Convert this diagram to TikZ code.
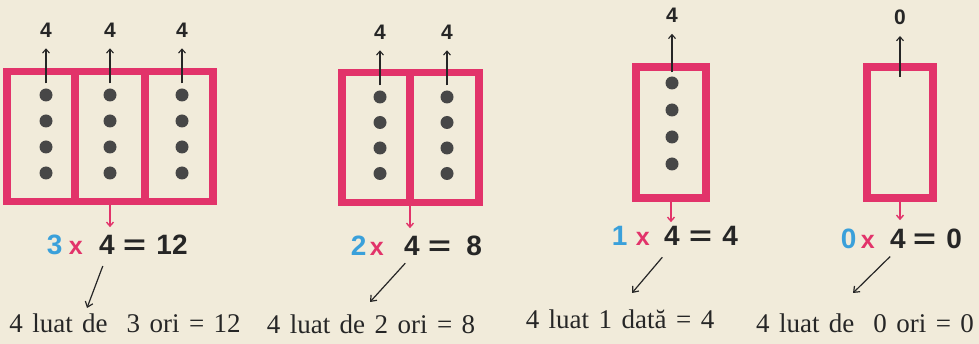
\documentclass[tikz,border=0pt]{standalone}
\usepackage{fontspec}
\usepackage{graphicx}
\setmainfont{Liberation Serif}
\setsansfont{Liberation Sans}
\usetikzlibrary{positioning,arrows.meta}
\definecolor{framered}{HTML}{E2336A}
\definecolor{factorblue}{HTML}{3AA0DA}
\definecolor{paper}{HTML}{F1EBDA}
\definecolor{ink}{HTML}{262626}
\definecolor{beadgray}{HTML}{474747}
\newcommand{\wideeq}{\scalebox{1.4}[1]{=}}

\begin{document}
\begin{tikzpicture}[
x=1pt, y=-1pt,
cell/.style={draw=framered, line width=7.5pt, inner sep=0pt, outer sep=0pt, minimum height=130pt},
bead/.style={circle, fill=beadgray, inner sep=0pt, minimum size=13pt},
countlabel/.style={font=\sffamily\bfseries\fontsize{21}{21}\selectfont, text=ink, inner sep=0pt},
factor/.style={font=\sffamily\bfseries\fontsize{28}{28}\selectfont, text=ink, inner sep=0pt},
timessign/.style={font=\sffamily\bfseries\fontsize{25}{25}\selectfont, text=framered, inner sep=0pt},
caption/.style={font=\fontsize{27}{27}\selectfont, execute at begin node={\spaceskip=0.35em\relax}, text=ink, anchor=base, inner sep=0pt},
uparrow/.style={-{Straight Barb[length=4pt,width=7pt]}, line width=1.1pt, ink, shorten >=11pt},
downarrow/.style={-{Straight Barb[length=4pt,width=7pt]}, line width=1.4pt, framered},
pointer/.style={-{Straight Barb[length=5pt,width=8pt]}, line width=1.2pt, ink}
]
\fill[paper] (0,0) rectangle (979,344);
\useasboundingbox (0,0) rectangle (979,344);

\node[cell, minimum width=68pt] (g1a) at (41,136.5) {};
\node[cell, minimum width=70pt] (g1b) at (110,136.5) {};
\node[cell, minimum width=68pt] (g1c) at (179,136.5) {};
\foreach \col/\x in {a/46,b/110,c/182}
  \foreach \row in {1,...,4}
    \node[bead] (g1\col\row) at (\x,{95+26*(\row-1)}) {};
\node[countlabel, above=51pt of g1a1] (g1la) {4};
\node[countlabel, above=51pt of g1b1] (g1lb) {4};
\node[countlabel, above=51pt of g1c1] (g1lc) {4};
\draw[uparrow, shorten <=5pt] (g1a1) -- (g1la);
\draw[uparrow, shorten <=5pt] (g1b1) -- (g1lb);
\draw[uparrow, shorten <=5pt] (g1c1) -- (g1lc);
\node[factor] (g1f) at (107,245) {4};
\node[timessign, base left=16pt of g1f] (g1x) {x};
\node[factor, text=factorblue, base left=6pt of g1x] (g1m) {3};
\node[factor, base right=8pt of g1f] (g1e) {\wideeq};
\node[factor, base right=10pt of g1e] (g1p) {12};
\draw[downarrow, shorten >=8pt] (g1b.south) -- (g1b.south |- g1f.north);
\coordinate (g1t) at (87,308);
\draw[pointer, shorten <=12pt] (g1f.south) -- (g1t);
\node[caption] (g1txt) at (125,333) {4 luat de\ \ 3 ori = 12};

\node[cell, minimum width=68pt] (g2a) at (376,137.5) {};
\node[cell, minimum width=69pt] (g2b) at (444.5,137.5) {};
\foreach \col/\x in {a/380,b/447}
  \foreach \row in {1,...,4}
    \node[bead] (g2\col\row) at (\x,{97+25.5*(\row-1)}) {};
\node[countlabel, above=51pt of g2a1] (g2la) {4};
\node[countlabel, above=51pt of g2b1] (g2lb) {4};
\draw[uparrow, shorten <=5pt] (g2a1) -- (g2la);
\draw[uparrow, shorten <=5pt] (g2b1) -- (g2lb);
\node[factor] (g2f) at (412,246) {4};
\node[timessign, base left=20pt of g2f] (g2x) {x};
\node[factor, text=factorblue, base left=3pt of g2x] (g2m) {2};
\node[factor, base right=8pt of g2f] (g2e) {\wideeq};
\node[factor, base right=15pt of g2e] (g2p) {8};
\draw[downarrow, shorten >=8pt] (g2a.south east) -- (g2a.south east |- g2f.north);
\coordinate (g2t) at (370,302);
\draw[pointer, shorten <=10pt] (g2f.south) -- (g2t);
\node[caption] (g2txt) at (371,334) {4 luat de 2 ori = 8};

\node[cell, minimum width=70pt, minimum height=131pt] (g3) at (671,132.5) {};
\foreach \row in {1,...,4}
  \node[bead] (g3a\row) at (672,{83+27*(\row-1)}) {};
\node[countlabel, above=53.5pt of g3a1] (g3la) {4};
\draw[uparrow, shorten <=4pt] (g3a1) -- (g3la);
\node[factor] (g3f) at (672,236) {4};
\node[timessign, base left=14pt of g3f] (g3x) {x};
\node[factor, text=factorblue, base left=8pt of g3x] (g3m) {1};
\node[factor, base right=9pt of g3f] (g3e) {\wideeq};
\node[factor, base right=10pt of g3e] (g3p) {4};
\draw[downarrow, shorten >=4pt] (g3.south) -- (g3.south |- g3f.north);
\coordinate (g3t) at (632,293);
\draw[pointer, shorten <=15pt] (g3f.south) -- (g3t);
\node[caption] (g3txt) at (620,328) {4 luat 1 dată = 4};

\node[cell, minimum width=66pt, minimum height=131pt] (g4) at (900,132.5) {};
\node[countlabel, above=42pt of g4] (g4l) {0};
\draw[uparrow, shorten <=-10pt] (g4) -- (g4l);
\node[factor] (g4f) at (898,239) {4};
\node[timessign, base left=15pt of g4f] (g4x) {x};
\node[factor, text=factorblue, base left=4pt of g4x] (g4m) {0};
\node[factor, base right=7pt of g4f] (g4e) {\wideeq};
\node[factor, base right=10pt of g4e] (g4p) {0};
\draw[downarrow, shorten >=9pt] (g4.south) -- (g4.south |- g4f.north);
\coordinate (g4t) at (853,293);
\draw[pointer, shorten <=11pt] (g4f.south) -- (g4t);
\node[caption] (g4txt) at (865,333) {4 luat de\ \ 0 ori = 0};
\end{tikzpicture}
\end{document}
